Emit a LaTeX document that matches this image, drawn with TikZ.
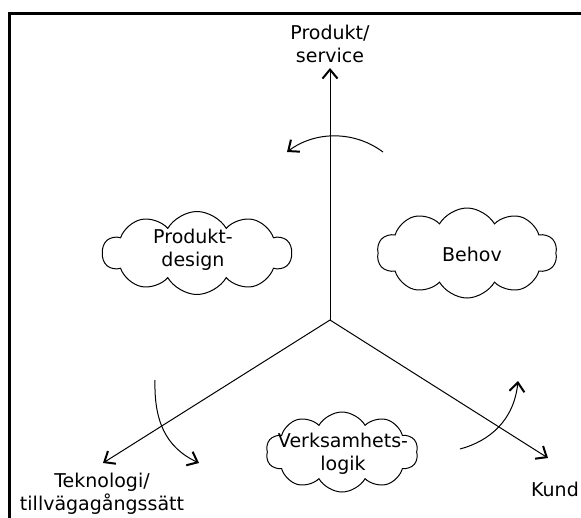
\documentclass[tikz,border=0pt]{standalone}
\usepackage{fontspec}
\setmainfont{DejaVu Sans}
\usetikzlibrary{arrows.meta,shapes.symbols}

\begin{document}
\begin{tikzpicture}[
  x=1pt, y=-1pt,
  txt/.style={align=center, inner sep=0pt,
              font=\fontsize{19pt}{23.5pt}\selectfont},
  moln/.style={draw, cloud, cloud puffs=10, cloud puff arc=120,
               cloud ignores aspect, inner sep=0pt, line width=1pt},
  axel/.style={line width=1pt},
  >={Straight Barb[length=9pt,width=15pt,line width=2pt]}
]
\useasboundingbox (0,0) rectangle (581,517);
\clip (0,0) rectangle (581,517);
\draw[line width=3pt] (9,13) rectangle (640,580);

\coordinate (o)    at (330,320);
\coordinate (yend) at (330,68);
\coordinate (vend) at (103,463);
\coordinate (hend) at (548,458);

\node[txt] (prod) at (330,44) {Produkt/\\service};
\node[txt] (tekn) at (102,494) {Teknologi/\\tillvägagångssätt};
\node[txt, anchor=east] (kund) at (579,489) {Kund};

\node[moln, minimum width=189, minimum height=83] (m1) at (197,253) {};
\node[txt] (pd) at (193,250) {Produkt-\\design};
\node[moln, minimum width=180, minimum height=90] (m2) at (467,253) {};
\node[txt] (behov) at (472,254) {Behov};
\node[moln, minimum width=152, minimum height=80] (m3) at (342,452) {};
\node[txt] (vl) at (343,454) {Verksamhets-\\logik};

\draw[axel, ->] (o) -- (yend);
\draw[axel, ->] (o) -- (vend);
\draw[axel, ->] (o) -- (hend);

\coordinate (a1) at (383,152);
\coordinate (a2) at (287,152);
\coordinate (b1) at (155,380);
\coordinate (b2) at (199,463);
\coordinate (c1) at (460,449);
\coordinate (c2) at (518,381);
\draw[axel, ->] (a1) .. controls (354.6,130.7) and (315.4,130.7) .. (a2);
\draw[axel, ->] (b1) .. controls (154,420) and (165,447) .. (b2);
\draw[axel, ->] (c1) .. controls (490,441) and (514,420) .. (c2);
\end{tikzpicture}
\end{document}
